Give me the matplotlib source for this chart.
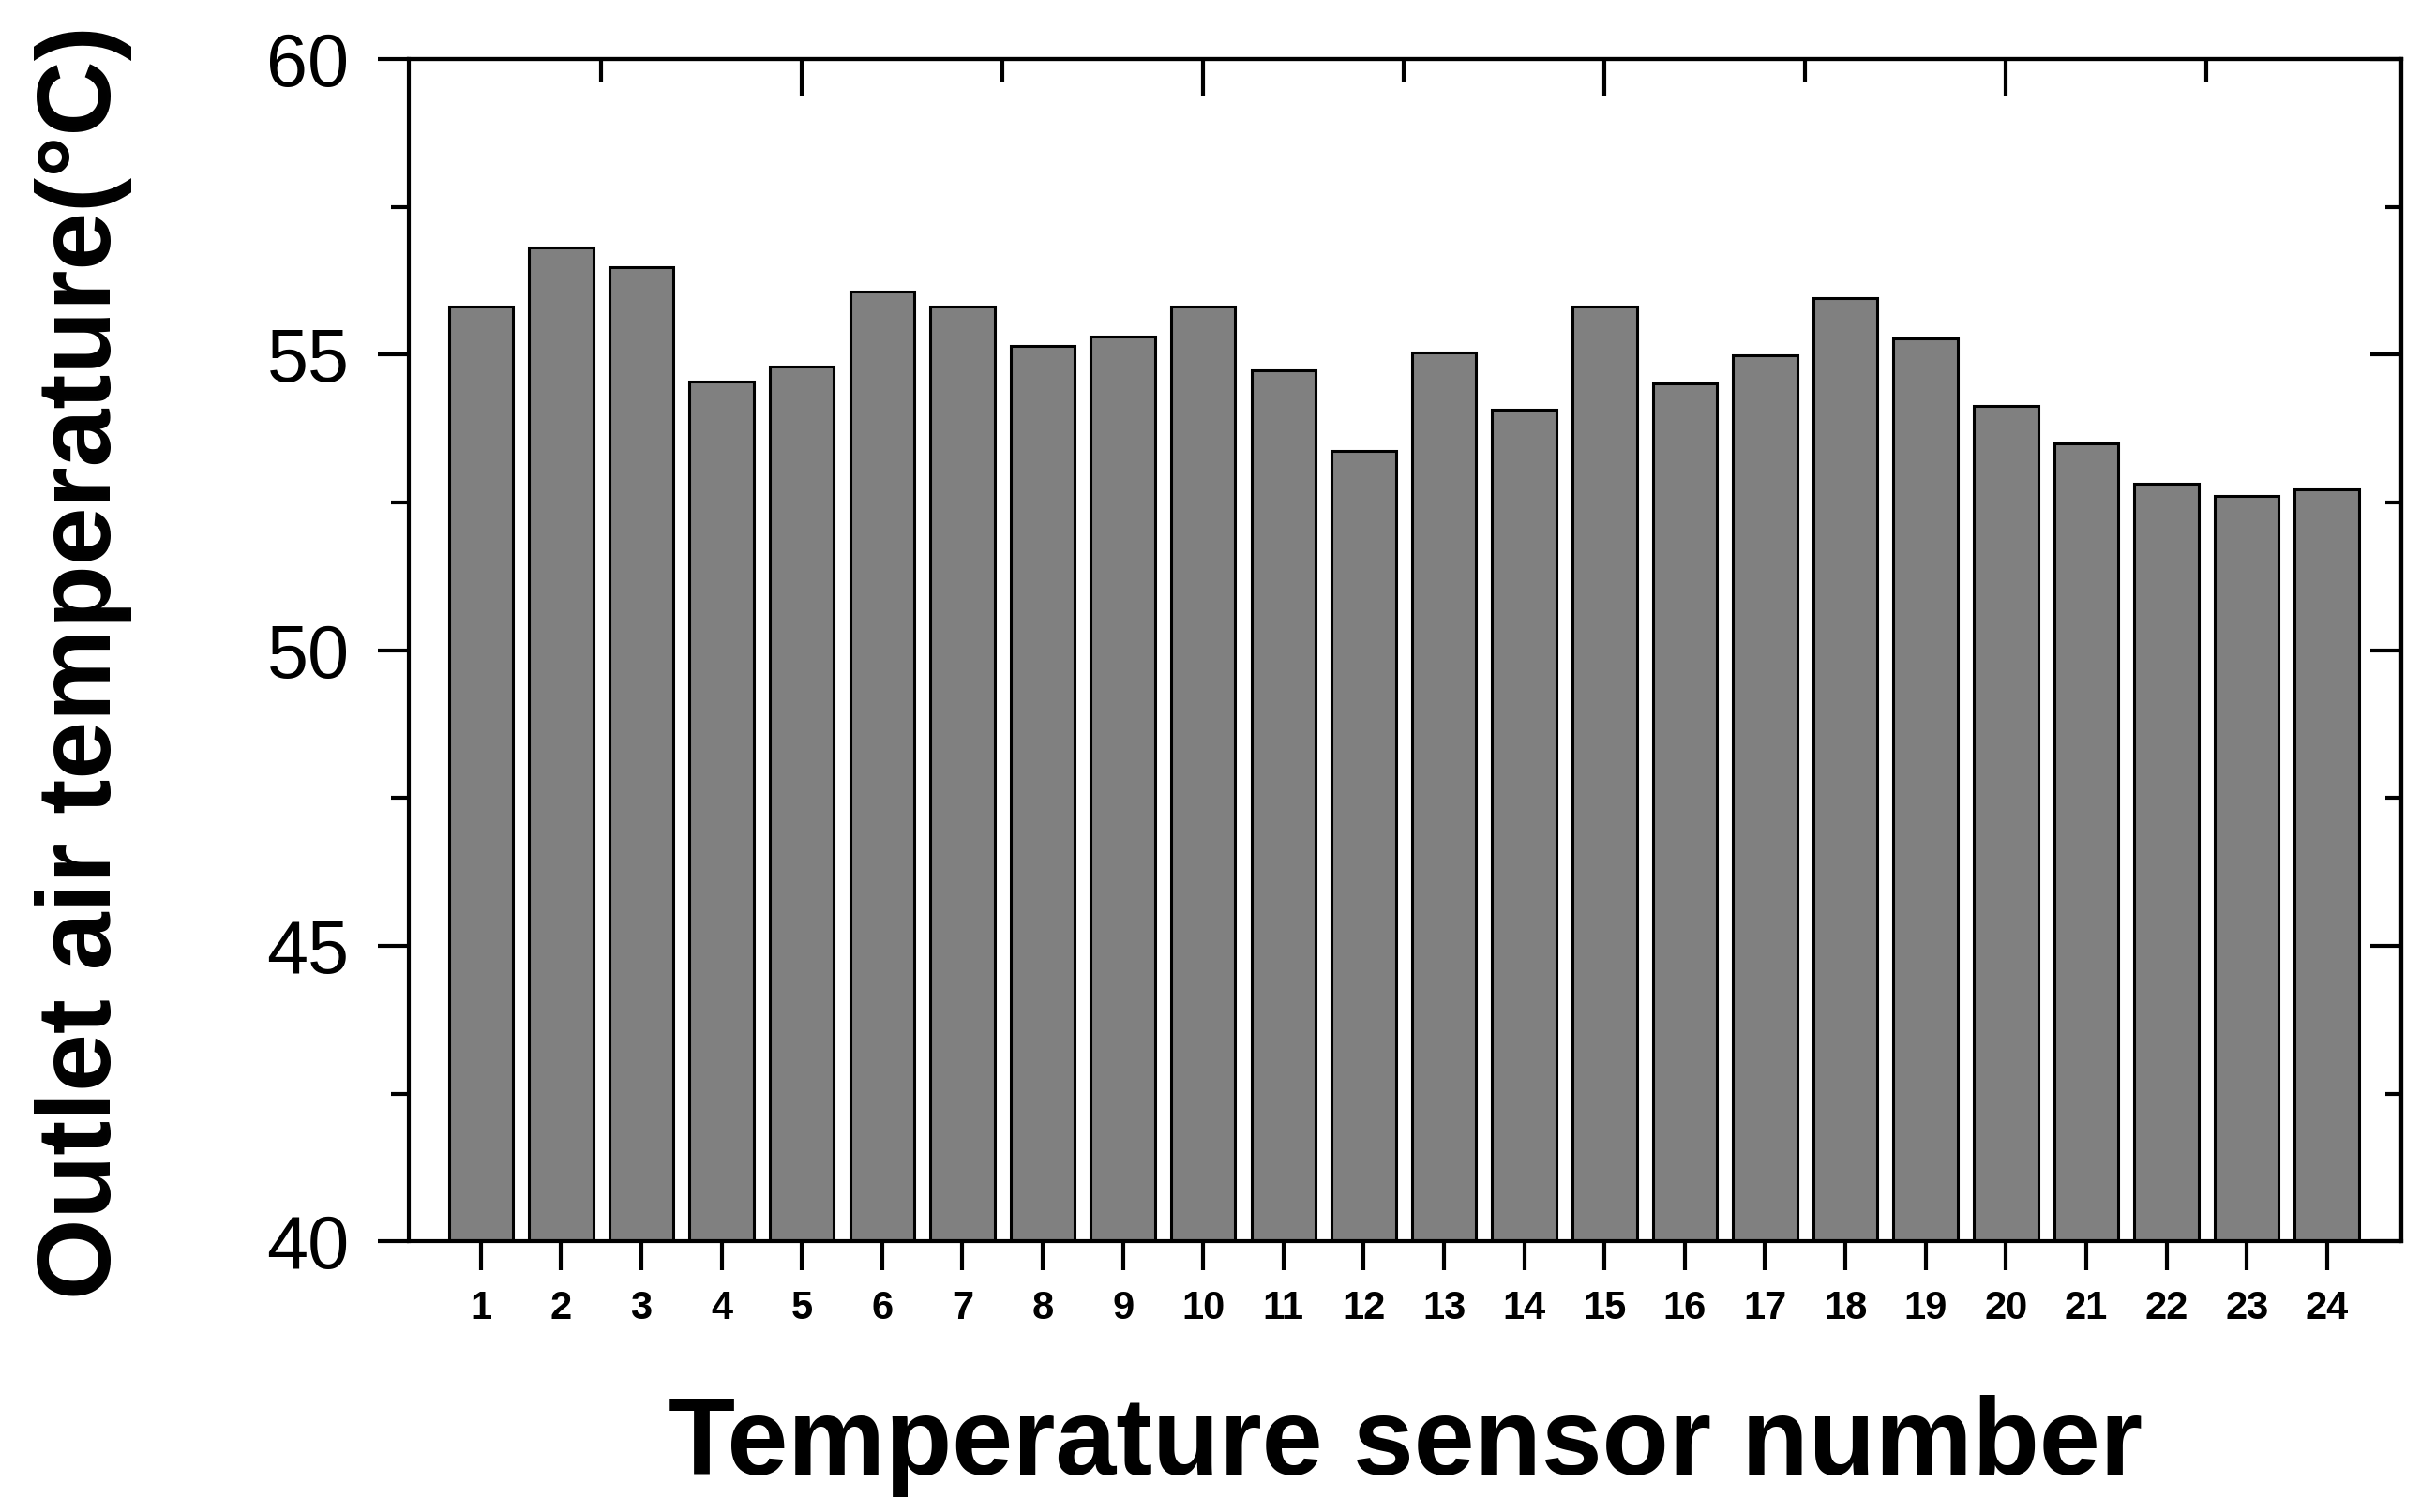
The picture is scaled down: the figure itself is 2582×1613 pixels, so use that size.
import matplotlib
matplotlib.use("Agg")
import matplotlib.pyplot as plt
from matplotlib.ticker import MultipleLocator

plt.rcParams["font.family"] = ["Liberation Sans", "DejaVu Sans"]

sensors = list(range(1, 25))
temps = [55.82, 56.81, 56.48, 54.54, 54.80, 56.06, 55.82, 55.14,
         55.30, 55.82, 54.73, 53.37, 55.04, 54.07, 55.82, 54.52,
         54.99, 55.95, 55.27, 54.13, 53.50, 52.82, 52.61, 52.72]
y_ticks = [40, 45, 50, 55, 60]

fig = plt.figure(figsize=(25.82, 16.13), dpi=100)
ax = fig.add_axes([0.169, 0.179, 0.823, 0.782])

ax.bar(sensors, [t - 40 for t in temps], bottom=40, width=0.8,
       color="#808080", edgecolor="black", linewidth=2.2, zorder=2)

ax.set_xlim(0.107, 24.93)
ax.set_ylim(40, 60)

for s in ax.spines.values():
    s.set_linewidth(3)

ax.set_xticks(sensors)
ax.set_xticklabels([str(s) for s in sensors], fontsize=30, fontweight="bold")
ax.tick_params(axis="x", which="major", direction="out", length=22, width=3, pad=15)
ax.set_yticks(y_ticks)
ax.set_yticklabels([str(v) for v in y_ticks], fontsize=57)
ax.yaxis.set_minor_locator(MultipleLocator(2.5))
ax.tick_params(axis="y", which="major", direction="out", length=24, width=3, pad=22)
ax.tick_params(axis="y", which="minor", direction="out", length=14, width=3)

# right axis: inward ticks, no labels
ry = ax.secondary_yaxis("right")
ry.set_yticks(y_ticks)
ry.yaxis.set_minor_locator(MultipleLocator(2.5))
ry.tick_params(which="major", direction="in", length=24, width=3, labelright=False)
ry.tick_params(which="minor", direction="in", length=12, width=3)
ry.spines["right"].set_linewidth(3)

# top axis: inward ticks every 2.5, no labels
tx = ax.secondary_xaxis("top")
tx.set_xticks([5, 10, 15, 20])
tx.xaxis.set_minor_locator(MultipleLocator(2.5))
tx.tick_params(which="major", direction="in", length=28, width=3, labeltop=False)
tx.tick_params(which="minor", direction="in", length=17, width=3)
tx.spines["top"].set_linewidth(3)

ax.set_xlabel("Temperature sensor number", fontsize=84, fontweight="bold")
ax.xaxis.set_label_coords(0.5, -0.13)
ax.set_ylabel("Outlet air temperature(°C)", fontsize=80, fontweight="bold")
ax.yaxis.set_label_coords(-0.139, 0.49)

fig.savefig("out.png", dpi=100)
